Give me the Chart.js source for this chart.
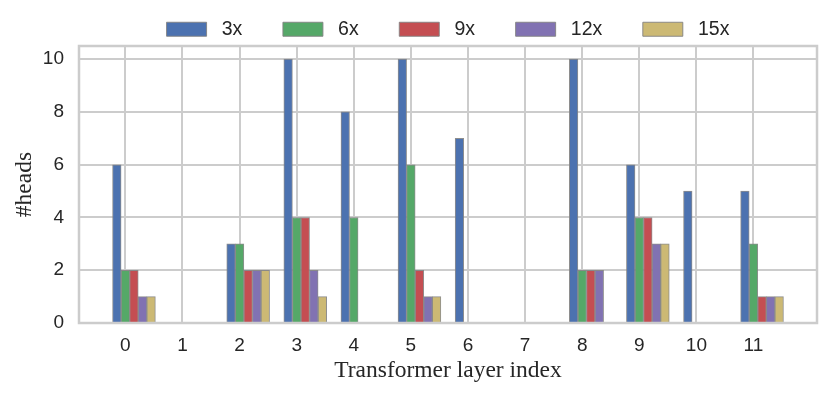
<!DOCTYPE html>
<html>
<head>
<meta charset="utf-8">
<script src="https://cdn.jsdelivr.net/npm/chart.js@4"></script>
<style>
  html, body { margin: 0; padding: 0; background: #ffffff; }
  #wrap { width: 831px; height: 399px; }
</style>
</head>
<body>
<div id="wrap"><canvas id="c" width="831" height="399"></canvas></div>
<script>
// ---- data ----
const categories = [0, 1, 2, 3, 4, 5, 6, 7, 8, 9, 10, 11];
const tickLabels = ['0', '1', '2', '3', '4', '5', '6', '7', '8', '9', '10', '11'];
const seriesNames = ['3x', '6x', '9x', '12x', '15x'];
const heads3x  = [6, 0, 3, 10, 8, 10, 7, 0, 10, 6, 5, 5];
const heads6x  = [2, 0, 3, 4, 4, 6, 0, 0, 2, 4, 0, 3];
const heads9x  = [2, 0, 2, 4, 0, 2, 0, 0, 2, 4, 0, 1];
const heads12x = [1, 0, 2, 2, 0, 1, 0, 0, 2, 3, 0, 1];
const heads15x = [1, 0, 2, 1, 0, 1, 0, 0, 0, 3, 0, 1];
const yTicks = [0, 2, 4, 6, 8, 10];

// ---- style / layout ----
const seriesValues = [heads3x, heads6x, heads9x, heads12x, heads15x];
const colors = ['#4C72B0', '#55A868', '#C44E52', '#8172B2', '#CCB974'];
const barOffset = [-0.15, 0, 0.15, 0.30, 0.45];
const textColor = '#262626';
const gridColor = '#cccccc';

const datasets = seriesNames.map((name, i) => ({
  label: name,
  data: categories.map((c, k) => ({ x: c + barOffset[i], y: seriesValues[i][k] })),
  backgroundColor: colors[i],
  borderColor: 'rgba(130,130,130,0.9)',
  borderWidth: 1,
  borderSkipped: 'bottom',
  grouped: false,
  categoryPercentage: 1.0,
  barPercentage: 1.0
}));

const framePlugin = {
  id: 'frame',
  afterDatasetsDraw(chart) {
    const a = chart.chartArea, ctx = chart.ctx;
    ctx.save();
    ctx.strokeStyle = gridColor;
    ctx.lineWidth = 2.5;
    ctx.strokeRect(a.left, a.top, a.right - a.left, a.bottom - a.top);
    ctx.restore();
  }
};

new Chart(document.getElementById('c'), {
  type: 'bar',
  data: { datasets },
  plugins: [framePlugin],
  options: {
    responsive: false,
    animation: false,
    layout: { padding: { top: 6, right: 14, bottom: 0, left: 0 } },
    plugins: {
      tooltip: { enabled: false },
      legend: {
        position: 'top',
        fullSize: false,
        maxHeight: 40,
        labels: {
          boxWidth: 40,
          boxHeight: 14,
          padding: 13.5,
          color: textColor,
          font: { family: '"Liberation Sans", Arial, sans-serif', size: 19.5 },
          generateLabels(chart) {
            const items = Chart.defaults.plugins.legend.labels.generateLabels(chart);
            items.forEach((it, i) => {
              it.text = ' ' + it.text + (i < items.length - 1 ? '     ' : '');
            });
            return items;
          }
        }
      }
    },
    scales: {
      x: {
        type: 'linear',
        offset: false,
        min: -0.8125,
        max: 12.1125,
        afterBuildTicks(scale) { scale.ticks = categories.map(v => ({ value: v })); },
        afterFit(scale) { scale.height = 76; },
        grid: { color: gridColor, lineWidth: 2, drawTicks: false, offset: false },
        border: { display: false },
        ticks: {
          padding: 11,
          color: textColor,
          maxRotation: 0,
          autoSkip: false,
          font: { family: '"Liberation Sans", Arial, sans-serif', size: 19 },
          callback(value) { const k = categories.indexOf(value); return k >= 0 ? tickLabels[k] : ''; }
        },
        title: {
          display: true,
          text: 'Transformer layer index',
          color: textColor,
          padding: { top: 0, bottom: 14 },
          font: { family: '"Liberation Serif", "Times New Roman", serif', size: 23.5 }
        }
      },
      y: {
        min: 0,
        max: 10.5,
        afterBuildTicks(scale) { scale.ticks = yTicks.map(v => ({ value: v })); },
        afterFit(scale) { scale.width = 79; },
        grid: { color: gridColor, lineWidth: 2, drawTicks: false },
        border: { display: false },
        ticks: {
          padding: 15,
          color: textColor,
          font: { family: '"Liberation Sans", Arial, sans-serif', size: 19 },
          callback(value) { return String(value); }
        },
        title: {
          display: true,
          text: '#heads',
          color: textColor,
          padding: { top: 11, bottom: 0 },
          font: { family: '"Liberation Serif", "Times New Roman", serif', size: 23.5 }
        }
      }
    }
  }
});
</script>
</body>
</html>
